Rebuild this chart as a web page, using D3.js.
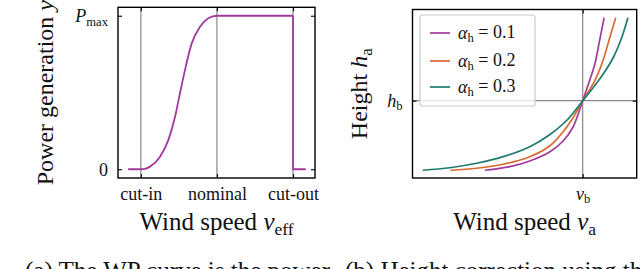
<!DOCTYPE html>
<html><head><meta charset="utf-8">
<script src="https://cdn.jsdelivr.net/npm/d3@7"></script>
<style>
body{margin:0;background:#fff}
svg{display:block}
text{font-family:"Liberation Serif","Times New Roman",serif;fill:#111}
</style>
</head><body>
<svg id="c" width="640" height="269"></svg>
<script>
// ---------- data: panel (a) wind power curve ----------
const wpTickLabels = ["cut-in", "nominal", "cut-out"];
const wpTickSpeeds = [3, 12, 21];
const wpSpeed = [1.5, 3, 3.5, 4.08, 5.27, 6.25, 7.04, 7.63, 8.22, 9.02, 10.0, 10.98, 12, 21];
const wpPower = [0, 0, 0.003, 0.017, 0.082, 0.19, 0.34, 0.495, 0.646, 0.82, 0.928, 0.983, 1, 1];
const wpCutoutSpeed = [21, 21, 22.5];
const wpCutoutPower = [1, 0, 0];
const wpYTicks = [0, 1];

// ---------- data: panel (b) height correction (relative v/v_b, h/h_b) ----------
const alphaLabels = ["0.1", "0.2", "0.3"];
const va01 = [0.695, 0.773, 0.835, 0.898, 0.939, 0.970, 1.0, 1.020, 1.038, 1.053, 1.067];
const ha01 = [0.093, 0.140, 0.214, 0.335, 0.475, 0.657, 1.0, 1.244, 1.479, 1.790, 2.082];
const va02 = [0.588, 0.669, 0.752, 0.835, 0.898, 0.939, 0.970, 1.0, 1.038, 1.062, 1.084, 1.103];
const ha02 = [0.093, 0.119, 0.171, 0.270, 0.413, 0.596, 0.778, 1.0, 1.263, 1.508, 1.814, 2.082];
const va03 = [0.501, 0.586, 0.669, 0.752, 0.835, 0.898, 0.950, 1.0, 1.032, 1.064, 1.095, 1.121, 1.141];
const ha03 = [0.093, 0.126, 0.184, 0.270, 0.400, 0.560, 0.742, 1.0, 1.165, 1.347, 1.560, 1.814, 2.082];
const vbTick = [1];
const hbTick = [1];

const colors = ["#a23a9c", "#d9692f", "#1f7a70"];
const gridColor = "#9a9a9a";

const svg = d3.select("#c");

function addSub(sel, main, sub, italic) {
  sel.append("tspan").attr("font-style", italic ? "italic" : null).text(main);
  sel.append("tspan").attr("font-size", "0.7em").attr("dy", "0.28em").text(sub);
}

// ================= Panel (a) =================
const A = {x0: 118, x1: 315, y0: 7.3, y1: 178};
const xA = d3.scaleLinear().domain([0.3, 23.6]).range([A.x0, A.x1]);
const yA = d3.scaleLinear().domain([-0.057, 1.055]).range([A.y1, A.y0]);
const gA = svg.append("g");

gA.selectAll("line.grid").data(wpTickSpeeds).join("line")
  .attr("x1", d => xA(d)).attr("x2", d => xA(d))
  .attr("y1", A.y0).attr("y2", A.y1)
  .attr("stroke", gridColor).attr("stroke-width", 1.4);

const wpPts = wpSpeed.map((v, i) => [v, wpPower[i]]);
gA.append("path").datum(wpPts)
  .attr("d", d3.line().x(d => xA(d[0])).y(d => yA(d[1])).curve(d3.curveMonotoneX))
  .attr("fill", "none").attr("stroke", colors[0]).attr("stroke-width", 1.8);
const coPts = wpCutoutSpeed.map((v, i) => [v, wpCutoutPower[i]]);
gA.append("path").datum(coPts)
  .attr("d", d3.line().x(d => xA(d[0])).y(d => yA(d[1])))
  .attr("fill", "none").attr("stroke", colors[0]).attr("stroke-width", 1.8);

gA.append("g").attr("transform", `translate(0,${A.y1})`)
  .call(d3.axisBottom(xA).tickValues(wpTickSpeeds).tickSize(-4).tickPadding(9)
    .tickFormat((d, i) => wpTickLabels[i]));
gA.append("g").attr("transform", `translate(0,${A.y0})`)
  .call(d3.axisTop(xA).tickValues(wpTickSpeeds).tickSize(-4).tickFormat(""));
const axLA = gA.append("g").attr("transform", `translate(${A.x0},0)`)
  .call(d3.axisLeft(yA).tickValues(wpYTicks).tickSize(-4).tickPadding(10).tickFormat(d => d === 0 ? "0" : ""));
gA.append("g").attr("transform", `translate(${A.x1},0)`)
  .call(d3.axisRight(yA).tickValues(wpYTicks).tickSize(-4).tickFormat(""));
axLA.selectAll(".tick text").filter(d => d === 1).each(function() {
  addSub(d3.select(this), "P", "max", true);
});

gA.append("rect").attr("x", A.x0).attr("y", A.y0).attr("width", A.x1 - A.x0).attr("height", A.y1 - A.y0)
  .attr("fill", "none").attr("stroke", "#000").attr("stroke-width", 1.4);

const xlA = gA.append("text").attr("x", (A.x0 + A.x1) / 2).attr("y", 230)
  .attr("text-anchor", "middle").attr("font-size", 25);
xlA.append("tspan").text("Wind speed ");
addSub(xlA, "v", "eff", true);
const ylA = gA.append("text").attr("transform", `translate(53,${(A.y0 + A.y1) / 2}) rotate(-90)`)
  .attr("text-anchor", "middle").attr("font-size", 24);
ylA.append("tspan").text("Power generation ");
ylA.append("tspan").attr("font-style", "italic").text("y");

// ================= Panel (b) =================
const B = {x0: 412.5, x1: 636.7, y0: 9.5, y1: 178};
const xB = d3.scaleLinear().domain([0.4692, 1.1685]).range([B.x0, B.x1]);
const yB = d3.scaleLinear().domain([-0.008, 2.189]).range([B.y1, B.y0]);
const gB = svg.append("g");

gB.selectAll("line.vg").data(vbTick).join("line")
  .attr("x1", d => xB(d)).attr("x2", d => xB(d)).attr("y1", B.y0).attr("y2", B.y1)
  .attr("stroke", "#888").attr("stroke-width", 1.2);
gB.selectAll("line.hg").data(hbTick).join("line")
  .attr("x1", B.x0).attr("x2", B.x1).attr("y1", d => yB(d)).attr("y2", d => yB(d))
  .attr("stroke", "#888").attr("stroke-width", 1.2);

const series = [[va01, ha01], [va02, ha02], [va03, ha03]];
const lineB = d3.line().x(d => xB(d[0])).y(d => yB(d[1])).curve(d3.curveCatmullRom.alpha(0.5));
series.forEach((s, k) => {
  const pts = s[0].map((v, i) => [v, s[1][i]]);
  gB.append("path").datum(pts).attr("d", lineB)
    .attr("fill", "none").attr("stroke", colors[k]).attr("stroke-width", 1.7);
});

const axBB = gB.append("g").attr("transform", `translate(0,${B.y1})`)
  .call(d3.axisBottom(xB).tickValues(vbTick).tickSize(-4).tickPadding(9).tickFormat(""));
gB.append("g").attr("transform", `translate(0,${B.y0})`)
  .call(d3.axisTop(xB).tickValues(vbTick).tickSize(-4).tickFormat(""));
const axLB = gB.append("g").attr("transform", `translate(${B.x0},0)`)
  .call(d3.axisLeft(yB).tickValues(hbTick).tickSize(-4).tickPadding(10).tickFormat(""));
gB.append("g").attr("transform", `translate(${B.x1},0)`)
  .call(d3.axisRight(yB).tickValues(hbTick).tickSize(-4).tickFormat(""));
axBB.selectAll(".tick text").each(function() { addSub(d3.select(this), "v", "b", true); });
axLB.selectAll(".tick text").each(function() { addSub(d3.select(this), "h", "b", true); });

const lg = gB.append("g");
lg.append("rect").attr("x", 420).attr("y", 15).attr("width", 115).attr("height", 91).attr("rx", 2.5)
  .attr("fill", "#fff").attr("fill-opacity", 0.8).attr("stroke", "#cccccc").attr("stroke-width", 1.2);
alphaLabels.forEach((lab, k) => {
  const yy = [33, 61, 87][k];
  lg.append("line").attr("x1", 430).attr("x2", 450).attr("y1", yy).attr("y2", yy)
    .attr("stroke", colors[k]).attr("stroke-width", 1.7);
  const t = lg.append("text").attr("x", 458).attr("y", yy + 5.5).attr("font-size", 18);
  t.append("tspan").attr("font-style", "italic").text("α");
  t.append("tspan").attr("font-size", "0.7em").attr("dy", "0.28em").text("h");
  t.append("tspan").attr("dy", "-0.2em").text(" = " + lab);
});

gB.append("rect").attr("x", B.x0).attr("y", B.y0).attr("width", B.x1 - B.x0).attr("height", B.y1 - B.y0)
  .attr("fill", "none").attr("stroke", "#000").attr("stroke-width", 1.4);

const xlB = gB.append("text").attr("x", (B.x0 + B.x1) / 2).attr("y", 230)
  .attr("text-anchor", "middle").attr("font-size", 25);
xlB.append("tspan").text("Wind speed ");
addSub(xlB, "v", "a", true);
const ylB = gB.append("text").attr("transform", `translate(367,${(B.y0 + B.y1) / 2}) rotate(-90)`)
  .attr("text-anchor", "middle").attr("font-size", 24);
ylB.append("tspan").text("Height ");
addSub(ylB, "h", "a", true);

svg.selectAll(".tick text").attr("font-size", 18).attr("font-family", "Liberation Serif, serif").attr("fill", "#111");
svg.selectAll(".tick line").attr("stroke", "#000").attr("stroke-width", 1.1);
svg.selectAll(".domain").remove();

// captions (cut off at the bottom edge, as in the reference)
svg.append("text").attr("x", 25).attr("y", 279).attr("font-size", 25).text("(a) The WP curve is the power");
svg.append("text").attr("x", 345).attr("y", 279).attr("font-size", 25).text("(b) Height correction using the");
</script>
</body></html>
